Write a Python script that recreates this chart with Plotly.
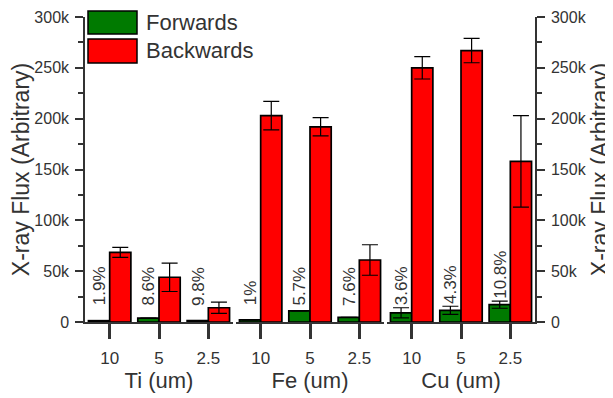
import plotly.graph_objects as go

# ---- data ----
thickness_labels = ["10", "5", "2.5"]
metals = ["Ti (um)", "Fe (um)", "Cu (um)"]
forwards = [
    [1300, 3800, 1400],
    [2000, 11000, 4600],
    [9000, 11500, 17000],
]
forwards_err = [
    [0, 0, 0],
    [0, 0, 0],
    [5000, 4000, 3500],
]
backwards = [
    [68500, 44000, 14000],
    [203000, 192000, 61000],
    [250000, 267000, 158000],
]
backwards_err = [
    [5000, 14000, 5500],
    [14000, 9000, 15000],
    [11000, 12000, 45000],
]
percent_labels = [
    ["1.9%", "8.6%", "9.8%"],
    ["1%", "5.7%", "7.6%"],
    ["3.6%", "4.3%", "10.8%"],
]
series_names = ["Forwards", "Backwards"]
y_ticks = [0, 50000, 100000, 150000, 200000, 250000, 300000]
y_ticktext = ["0", "50k", "100k", "150k", "200k", "250k", "300k"]

# ---- style ----
GREEN = "#007A00"
RED = "#FF0000"
AX = "#333333"
TXT = "#333333"
FONT = "Liberation Sans, Arial, sans-serif"
BODY = 8  # page body margin in the browser
W, H = 613 - BODY, 398 - BODY
ML, MR, MT, MB = 85 - BODY, 78, 17 - BODY, 76
PW = W - ML - MR
PH = H - MT - MB
GAP = 3 / PW
PANEL = (1 - 2 * GAP) / 3
BARGAP = 0.14

fig = go.Figure()
xnames = ["x", "x2", "x3"]
for i in range(3):
    fig.add_trace(go.Bar(
        x=thickness_labels, y=forwards[i], name=series_names[0],
        xaxis=xnames[i], yaxis="y",
        marker=dict(color=GREEN, line=dict(color="black", width=1.7)),
        error_y=dict(type="data", array=forwards_err[i], color="black",
                     thickness=1.2, width=8, visible=True),
        showlegend=False, offsetgroup="f",
    ))
    fig.add_trace(go.Bar(
        x=thickness_labels, y=backwards[i], name=series_names[1],
        xaxis=xnames[i], yaxis="y",
        marker=dict(color=RED, line=dict(color="black", width=1.7)),
        error_y=dict(type="data", array=backwards_err[i], color="black",
                     thickness=1.2, width=8, visible=True),
        showlegend=False, offsetgroup="b",
    ))

# invisible trace so the right-hand y axis is drawn
fig.add_trace(go.Scatter(x=[thickness_labels[0]], y=[None], xaxis="x3", yaxis="y2",
                         mode="markers", showlegend=False, hoverinfo="skip"))

# percentage annotations over forward bars
annotations = []
fwd_offset = -(1 - BARGAP) / 4
for i in range(3):
    for j in range(3):
        top = forwards[i][j] + forwards_err[i][j]
        ybase = max(19000, top + 5000)
        annotations.append(dict(
            x=j + fwd_offset, y=ybase, xref=xnames[i], yref="y",
            text=percent_labels[i][j], textangle=-90, showarrow=False,
            xanchor="center", yanchor="bottom", yshift=-5,
            font=dict(size=17, color=TXT, family=FONT),
        ))

# manual legend (large swatches), positions given in screen pixels
def px2paper_x(px):
    return (px - BODY - ML) / PW

def px2paper_y(py):
    return (H + BODY - MB - py) / PH

shapes = []
legend_rows = [(series_names[0], GREEN, 11, 34), (series_names[1], RED, 39, 63)]
for name, col, y0, y1 in legend_rows:
    shapes.append(dict(type="rect", xref="paper", yref="paper",
                       x0=px2paper_x(88), x1=px2paper_x(137),
                       y0=px2paper_y(y1), y1=px2paper_y(y0),
                       fillcolor=col, line=dict(color="black", width=1.5)))
    annotations.append(dict(x=px2paper_x(144), y=px2paper_y((y0 + y1) / 2),
                            xref="paper", yref="paper", text=name,
                            showarrow=False, xanchor="left", yanchor="middle",
                            font=dict(size=22, color=TXT, family=FONT)))

xcommon = dict(type="category", showline=True, linecolor=AX, linewidth=2,
               ticks="outside", ticklen=15, tickwidth=2.5, tickcolor=AX,
               tickfont=dict(size=17, color=TXT, family=FONT),
               ticklabelstandoff=5,
               showgrid=False, zeroline=False, anchor="y", fixedrange=True,
               range=[-0.5, 2.5])
layout_x = {}
for i, name in enumerate(["xaxis", "xaxis2", "xaxis3"]):
    d0 = i * (PANEL + GAP)
    layout_x[name] = dict(xcommon, domain=[d0, d0 + PANEL],
                          title=dict(text=metals[i], standoff=5,
                                     font=dict(size=22, color=TXT, family=FONT)))

ycommon = dict(range=[0, 300000], tickvals=y_ticks, ticktext=y_ticktext,
               showline=True, linecolor=AX, linewidth=1.5,
               ticks="outside", ticklen=8, tickwidth=1.5, tickcolor=AX,
               minor=dict(ticks="outside", ticklen=5, dtick=25000, tickcolor=AX,
                          tickwidth=1.5),
               tickfont=dict(size=16, color=TXT, family=FONT),
               ticklabelstandoff=3,
               showgrid=False, zeroline=False, fixedrange=True)

fig.update_layout(
    width=W, height=H,
    margin=dict(l=ML, r=MR, t=MT, b=MB, autoexpand=False),
    paper_bgcolor="white", plot_bgcolor="white",
    barmode="group", bargap=BARGAP, bargroupgap=0,
    showlegend=False,
    font=dict(family=FONT, color=TXT),
    yaxis=dict(ycommon, anchor="x", side="left",
               title=dict(text="X-ray Flux (Arbitrary)", standoff=4,
                          font=dict(size=23, color=TXT, family=FONT))),
    yaxis2=dict(ycommon, anchor="x3", side="right", overlaying="y",
                title=dict(text="X-ray Flux (Arbitrary)", standoff=4,
                           font=dict(size=23, color=TXT, family=FONT))),
    annotations=annotations,
    shapes=shapes,
    **layout_x,
)

fig.write_html("out.html")
